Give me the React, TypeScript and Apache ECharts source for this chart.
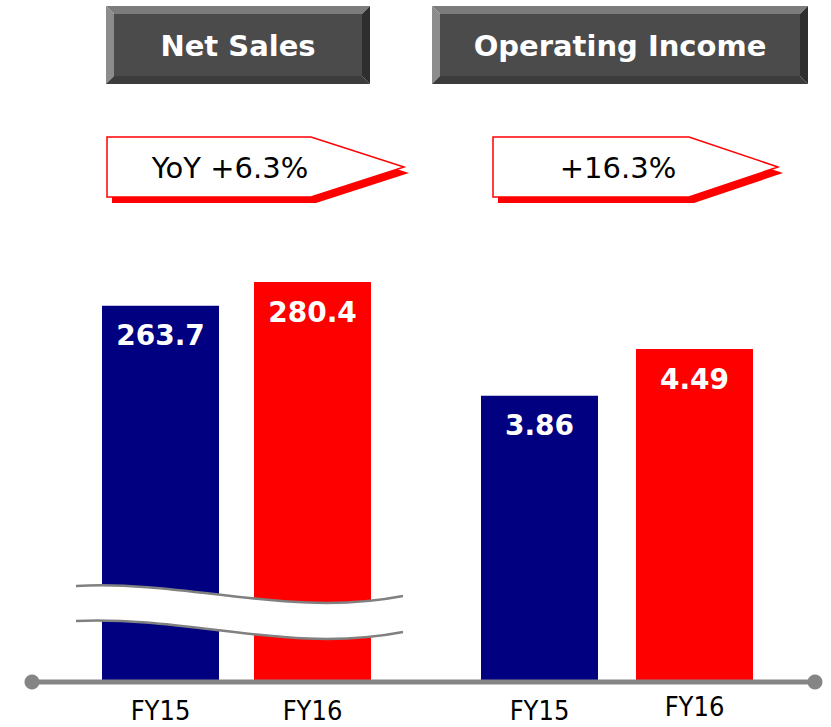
import React, { useEffect, useRef } from "react";
import * as echarts from "echarts";

const categories = ["FY15", "FY16"];
const netSales = [263.7, 280.4];
const operatingIncome = [3.86, 4.49];
const panelTitles = ["Net Sales", "Operating Income"];
const growthLabels = ["YoY +6.3%", "+16.3%"];
const barColors = ["#000080", "#FF0000"];

function bevelBox(x: number, y: number, w: number, h: number, b: number, text: string) {
  const x2 = x + w, y2 = y + h;
  return [
    { type: "polygon", z: 10, shape: { points: [[x, y], [x2, y], [x2 - b, y + b], [x + b, y + b]] }, style: { fill: "#7c7c7c" } },
    { type: "polygon", z: 10, shape: { points: [[x, y], [x + b, y + b], [x + b, y2 - b], [x, y2]] }, style: { fill: "#8c8c8c" } },
    { type: "polygon", z: 10, shape: { points: [[x, y2], [x + b, y2 - b], [x2 - b, y2 - b], [x2, y2]] }, style: { fill: "#3c3c3c" } },
    { type: "polygon", z: 10, shape: { points: [[x2, y], [x2, y2], [x2 - b, y2 - b], [x2 - b, y + b]] }, style: { fill: "#2e2e2e" } },
    { type: "rect", z: 10, shape: { x: x + b, y: y + b, width: w - 2 * b, height: h - 2 * b }, style: { fill: "#4b4b4b" } },
    {
      type: "text", z: 11, x: x + w / 2, y: y + h / 2 + 1,
      style: { text, fill: "#ffffff", font: "bold 29px 'DejaVu Sans'", align: "center", verticalAlign: "middle" },
    },
  ];
}

function arrowCallout(x: number, y: number, w: number, h: number, tip: number, text: string, tx: number) {
  const r = x + w, my = y + h / 2, ox = 5, oy = 6;
  const pts = (dx: number, dy: number) => [[x + dx, y + dy], [r + dx, y + dy], [r + tip + dx, my + dy], [r + dx, y + h + dy], [x + dx, y + h + dy]];
  return [
    { type: "polygon", z: 10, shape: { points: pts(ox, oy) }, style: { fill: "#ff0000" } },
    { type: "polygon", z: 11, shape: { points: pts(0, 0) }, style: { fill: "#ffffff", stroke: "#ff0000", lineWidth: 1.5 } },
    {
      type: "text", z: 12, x: tx, y: my + 1,
      style: { text, fill: "#000000", font: "29px 'DejaVu Sans'", align: "center", verticalAlign: "middle" },
    },
  ];
}

echarts.graphic.registerShape(
  "breakband",
  echarts.graphic.extendPath("M76,586 C190,580 290,618 403,596 L403,632 C290,654 190,616 76,621 Z", {})
);

export default function App() {
  const ref = useRef<HTMLDivElement>(null);
  useEffect(() => {
    if (!ref.current) return;
    const chart = echarts.init(ref.current, null, { renderer: "svg" });
    const labelStyle = {
      show: true,
      position: "insideTop",
      distance: 16,
      color: "#ffffff",
      fontFamily: "DejaVu Sans",
      fontWeight: "bold",
      fontSize: 28,
    };
    const axisLabel = {
      margin: 16,
      color: "#000000",
      fontFamily: "DejaVu Sans Condensed",
      fontSize: 27,
      lineHeight: 24,
    };
    chart.setOption({
      animation: false,
      backgroundColor: "#ffffff",
      grid: [
        { left: 84.5, width: 304, top: 182, height: 500 },
        { left: 462, width: 310, top: 182, height: 500 },
      ],
      xAxis: [
        {
          type: "category", gridIndex: 0, data: categories,
          axisLine: { show: false }, axisTick: { show: false }, axisLabel,
        },
        {
          type: "category", gridIndex: 1,
          data: [categories[0], { value: categories[1], textStyle: { lineHeight: 16 } }],
          axisLine: { show: false }, axisTick: { show: false }, axisLabel,
        },
      ],
      yAxis: [
        { type: "value", gridIndex: 0, min: 0, max: 350.5, show: false, splitLine: { show: false } },
        { type: "value", gridIndex: 1, min: 0, max: 6.742, show: false, splitLine: { show: false } },
      ],
      series: [
        {
          type: "bar", xAxisIndex: 0, yAxisIndex: 0, data: netSales, barWidth: 117,
          itemStyle: { color: (p: any) => barColors[p.dataIndex] },
          label: labelStyle,
        },
        {
          type: "bar", xAxisIndex: 1, yAxisIndex: 1, data: operatingIncome, barWidth: 117,
          itemStyle: { color: (p: any) => barColors[p.dataIndex] },
          label: labelStyle,
        },
      ],
      graphic: [
        ...bevelBox(106, 6, 264, 78, 8, panelTitles[0]),
        ...bevelBox(432, 6, 376, 78, 8, panelTitles[1]),
        ...arrowCallout(107, 137, 204, 60, 93, growthLabels[0], 230),
        ...arrowCallout(493, 137, 196, 60, 89, growthLabels[1], 618),
        { type: "breakband", z: 50, style: { fill: "#ffffff", stroke: null } },
        { type: "bezierCurve", z: 51, shape: { x1: 76, y1: 586, cpx1: 190, cpy1: 580, cpx2: 290, cpy2: 618, x2: 403, y2: 596 }, style: { stroke: "#808080", lineWidth: 2.5, fill: null } },
        { type: "bezierCurve", z: 51, shape: { x1: 76, y1: 621, cpx1: 190, cpy1: 616, cpx2: 290, cpy2: 654, x2: 403, y2: 632 }, style: { stroke: "#808080", lineWidth: 2.5, fill: null } },
        { type: "line", z: 52, shape: { x1: 32, y1: 682, x2: 815, y2: 682 }, style: { stroke: "#858585", lineWidth: 5 } },
        { type: "circle", z: 53, shape: { cx: 32, cy: 682, r: 7.5 }, style: { fill: "#858585" } },
        { type: "circle", z: 53, shape: { cx: 815, cy: 682, r: 7.5 }, style: { fill: "#858585" } },
      ],
    });
    return () => chart.dispose();
  }, []);
  return <div ref={ref} style={{ position: "fixed", left: 0, top: 0, width: 831, height: 727 }} />;
}
